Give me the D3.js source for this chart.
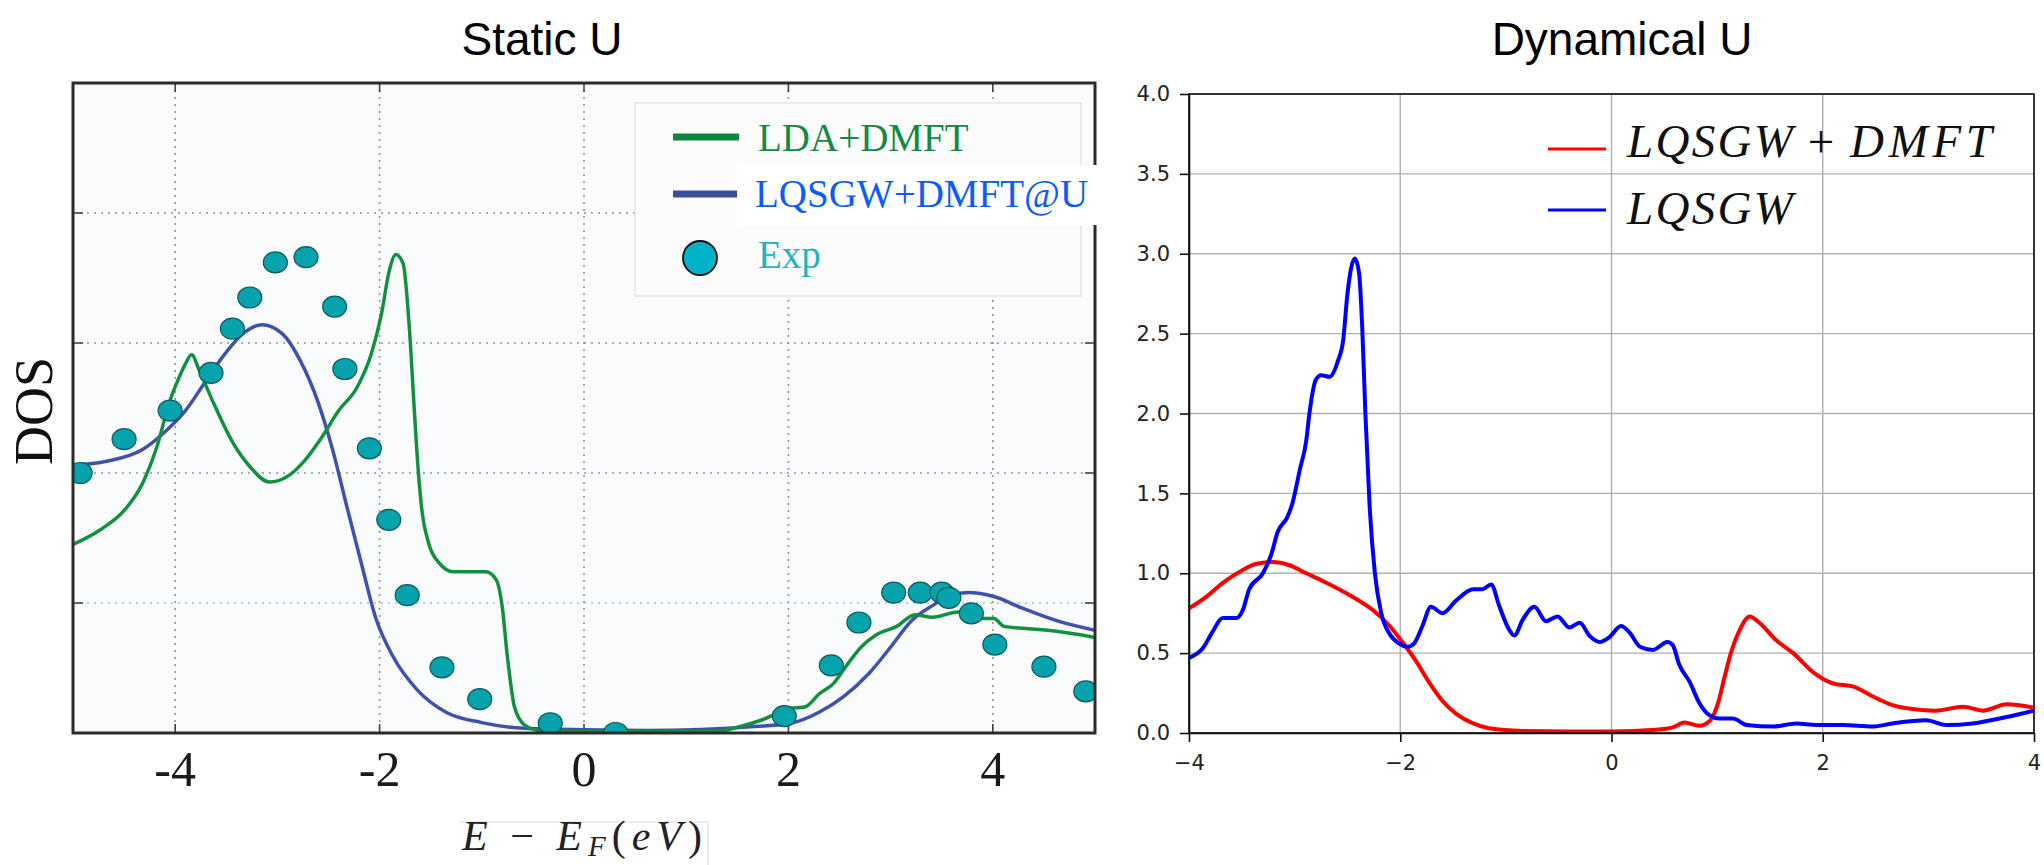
<!DOCTYPE html>
<html>
<head>
<meta charset="utf-8">
<script src="https://cdn.jsdelivr.net/npm/d3@7"></script>
<style>
  body { margin: 0; background: #fff; }
  svg { display: block; }
</style>
</head>
<body>
<svg id="fig" width="2044" height="865"></svg>
<script>
// ---- Static U (left panel) ----
const ldaE   = [-5.0,-4.74,-4.49,-4.32,-4.18,-4.05,-3.97,-3.9,-3.84,-3.76,-3.62,-3.44,-3.27,-3.08,-2.89,-2.74,-2.57,-2.4,-2.22,-2.08,-1.98,-1.91,-1.84,-1.77,-1.71,-1.66,-1.62,-1.59,-1.52,-1.42,-1.28,-0.96,-0.86,-0.8,-0.75,-0.68,-0.58,-0.44,0.5,1.32,1.53,1.74,2.02,2.16,2.3,2.44,2.57,2.71,2.85,3.06,3.24,3.41,3.66,3.83,4.01,4.11,4.39,4.64,5.0];
const ldaDos = [1.45,1.56,1.72,1.92,2.2,2.56,2.72,2.84,2.91,2.78,2.53,2.24,2.05,1.93,1.98,2.09,2.27,2.48,2.66,2.92,3.23,3.54,3.68,3.61,3.13,2.48,2.0,1.74,1.46,1.31,1.24,1.24,1.18,0.97,0.59,0.2,0.06,0.02,0.01,0.015,0.05,0.1,0.19,0.2,0.3,0.38,0.52,0.66,0.75,0.82,0.91,0.89,0.93,0.88,0.88,0.82,0.8,0.78,0.735];

const qsgwUE   = [-5.0,-4.67,-4.32,-4.11,-3.9,-3.69,-3.51,-3.34,-3.15,-2.95,-2.78,-2.6,-2.46,-2.32,-2.18,-2.04,-1.87,-1.63,-1.35,-1.0,-0.58,0.0,0.62,1.67,2.02,2.3,2.54,2.79,3.0,3.2,3.41,3.59,3.76,4.01,4.29,4.64,5.0];
const qsgwUDos = [2.06,2.09,2.18,2.31,2.48,2.72,2.92,3.07,3.14,3.07,2.87,2.54,2.18,1.74,1.31,0.89,0.59,0.33,0.16,0.08,0.036,0.025,0.02,0.05,0.075,0.16,0.28,0.46,0.66,0.86,0.98,1.06,1.08,1.05,0.96,0.86,0.79];

const expE   = [-4.93,-4.5,-4.05,-3.65,-3.44,-3.27,-3.02,-2.72,-2.44,-2.34,-2.1,-1.91,-1.73,-1.39,-1.02,-0.33,0.31,1.96,2.42,2.69,3.03,3.29,3.5,3.57,3.79,4.02,4.5,4.91];
const expDos = [2.0,2.26,2.48,2.77,3.11,3.35,3.62,3.66,3.28,2.8,2.19,1.64,1.06,0.505,0.26,0.075,0.0,0.13,0.52,0.85,1.08,1.08,1.08,1.04,0.92,0.68,0.51,0.32];

const staticTicks = [-4, -2, 0, 2, 4];
const staticGridY = [1, 2, 3, 4];

// ---- Dynamical U (right panel) ----
const dmftE   = [-4.0,-3.84,-3.68,-3.52,-3.36,-3.21,-3.05,-2.89,-2.73,-2.58,-2.42,-2.26,-2.1,-1.98,-1.85,-1.72,-1.6,-1.47,-1.31,-1.16,-0.84,-0.4,0.0,0.42,0.58,0.69,0.83,0.93,1.01,1.07,1.13,1.21,1.31,1.4,1.56,1.72,1.91,2.1,2.29,2.47,2.66,2.85,3.07,3.33,3.52,3.74,3.99];
const dmftDos = [0.78,0.85,0.94,1.01,1.06,1.07,1.05,1.0,0.95,0.9,0.84,0.77,0.67,0.57,0.45,0.31,0.2,0.12,0.06,0.03,0.013,0.01,0.01,0.02,0.035,0.065,0.045,0.075,0.19,0.35,0.5,0.64,0.73,0.69,0.58,0.5,0.38,0.31,0.29,0.23,0.175,0.15,0.14,0.165,0.14,0.18,0.16];

const qsgwE   = [-4.0,-3.87,-3.78,-3.68,-3.55,-3.49,-3.43,-3.3,-3.22,-3.16,-3.07,-3.02,-2.95,-2.89,-2.86,-2.8,-2.75,-2.67,-2.59,-2.54,-2.5,-2.43,-2.39,-2.36,-2.33,-2.29,-2.24,-2.18,-2.1,-2.01,-1.93,-1.87,-1.79,-1.71,-1.6,-1.47,-1.31,-1.22,-1.14,-1.06,-0.98,-0.92,-0.84,-0.73,-0.62,-0.51,-0.4,-0.3,-0.21,-0.11,-0.02,0.09,0.17,0.27,0.39,0.53,0.58,0.64,0.74,0.83,0.93,1.02,1.15,1.28,1.53,1.75,1.94,2.19,2.47,2.66,2.98,3.17,3.42,3.74,4.0];
const qsgwDos = [0.47,0.53,0.63,0.72,0.72,0.77,0.9,1.0,1.12,1.26,1.35,1.44,1.65,1.83,2.0,2.21,2.24,2.23,2.33,2.46,2.75,2.97,2.88,2.54,2.0,1.42,1.0,0.75,0.62,0.56,0.54,0.56,0.67,0.79,0.75,0.83,0.9,0.9,0.93,0.79,0.66,0.61,0.71,0.79,0.7,0.73,0.66,0.69,0.61,0.57,0.6,0.67,0.63,0.54,0.52,0.57,0.55,0.43,0.32,0.19,0.11,0.09,0.09,0.05,0.04,0.06,0.05,0.05,0.04,0.06,0.08,0.05,0.06,0.1,0.14];

const dynXTicks = [-4, -2, 0, 2, 4];
const dynYTicks = [0, 0.5, 1, 1.5, 2, 2.5, 3, 3.5, 4];

const svg = d3.select("#fig");
const serif = "'Liberation Serif', 'Times New Roman', serif";

// ================= left panel =================
const xL = d3.scaleLinear().domain([-5, 5]).range([73, 1095]);
const yL = d3.scaleLinear().domain([0, 5]).range([733, 83]);

svg.append("text").attr("x", 542).attr("y", 55).attr("text-anchor", "middle")
  .style("font-family", "'Liberation Sans', Arial, sans-serif").style("font-size", "46px")
  .text("Static U");

svg.append("rect").attr("x", xL(-5)).attr("y", yL(5))
  .attr("width", xL(5) - xL(-5)).attr("height", yL(0) - yL(5))
  .attr("fill", "#fafbfd");

svg.append("defs").append("clipPath").attr("id", "clipL")
  .append("rect").attr("x", xL(-5)).attr("y", yL(5))
  .attr("width", xL(5) - xL(-5)).attr("height", yL(0) - yL(5));

const gridL = svg.append("g");
gridL.selectAll(".vx").data(staticTicks).enter().append("line")
  .attr("x1", d => xL(d)).attr("x2", d => xL(d))
  .attr("y1", yL(5)).attr("y2", yL(0))
  .attr("stroke", "#8a95a5").attr("stroke-width", 1.6).attr("stroke-dasharray", "2,5");
gridL.selectAll(".hy").data(staticGridY).enter().append("line")
  .attr("x1", xL(-5)).attr("x2", xL(5))
  .attr("y1", d => yL(d)).attr("y2", d => yL(d))
  .attr("stroke", d => d === 1 ? "#9cc0d4" : "#8a95a5").attr("stroke-width", 1.6).attr("stroke-dasharray", "2,5");

// inward ticks
const tickL = svg.append("g").attr("stroke", "#444").attr("stroke-width", 1.6);
staticTicks.forEach(d => {
  tickL.append("line").attr("x1", xL(d)).attr("x2", xL(d)).attr("y1", yL(0)).attr("y2", yL(0) - 9);
  tickL.append("line").attr("x1", xL(d)).attr("x2", xL(d)).attr("y1", yL(5)).attr("y2", yL(5) + 9);
});
staticGridY.forEach(d => {
  tickL.append("line").attr("x1", xL(-5)).attr("x2", xL(-5) + 10).attr("y1", yL(d)).attr("y2", yL(d));
  tickL.append("line").attr("x1", xL(5)).attr("x2", xL(5) - 10).attr("y1", yL(d)).attr("y2", yL(d));
});

const lineL = d3.line().x(d => xL(d[0])).y(d => yL(d[1])).curve(d3.curveMonotoneX);
const plotL = svg.append("g").attr("clip-path", "url(#clipL)");

plotL.append("path").datum(d3.zip(qsgwUE, qsgwUDos))
  .attr("d", lineL).attr("fill", "none").attr("stroke", "#3e52ad").attr("stroke-width", 3.5);
plotL.append("path").datum(d3.zip(ldaE, ldaDos))
  .attr("d", lineL).attr("fill", "none").attr("stroke", "#12903f").attr("stroke-width", 3.5);
plotL.selectAll(".exp").data(d3.zip(expE, expDos)).enter().append("ellipse")
  .attr("cx", d => xL(d[0])).attr("cy", d => yL(d[1]))
  .attr("rx", 12).attr("ry", 10.5)
  .attr("fill", "#06a3ac").attr("stroke", "#0b5a5e").attr("stroke-width", 1.2);

svg.append("rect").attr("x", xL(-5)).attr("y", yL(5))
  .attr("width", xL(5) - xL(-5)).attr("height", yL(0) - yL(5))
  .attr("fill", "none").attr("stroke", "#2b2b2b").attr("stroke-width", 3);

svg.append("g").selectAll("text").data(staticTicks).enter().append("text")
  .attr("x", d => xL(d)).attr("y", 786).attr("text-anchor", "middle")
  .style("font-family", serif).style("font-size", "50px").attr("fill", "#1a1a1a")
  .text(d => d < 0 ? "-" + Math.abs(d) : String(d));

svg.append("text").attr("transform", "translate(52,411) rotate(-90)")
  .attr("text-anchor", "middle")
  .style("font-family", serif).style("font-size", "54px").attr("fill", "#111")
  .text("DOS");

// x label (LaTeX style)
svg.append("line").attr("x1", 459).attr("x2", 708).attr("y1", 822).attr("y2", 822)
  .attr("stroke", "#dcdcdc").attr("stroke-width", 1.2);
svg.append("line").attr("x1", 708).attr("x2", 708).attr("y1", 822).attr("y2", 865)
  .attr("stroke", "#dcdcdc").attr("stroke-width", 1.2);
const xlab = svg.append("text").attr("x", 462).attr("y", 850)
  .attr("textLength", 240).attr("lengthAdjust", "spacing")
  .style("font-family", serif).style("font-size", "42px").attr("fill", "#222");
xlab.append("tspan").style("font-style", "italic").text("E");
xlab.append("tspan").text(" \u2212 ");
xlab.append("tspan").style("font-style", "italic").text("E");
xlab.append("tspan").style("font-style", "italic").style("font-size", "29px").attr("dy", 6).text("F");
xlab.append("tspan").attr("dy", -6).text("(");
xlab.append("tspan").style("font-style", "italic").text("eV");
xlab.append("tspan").text(")");

// legend
const legL = svg.append("g");
legL.append("rect").attr("x", 635).attr("y", 103).attr("width", 446).attr("height", 193)
  .attr("fill", "#fcfcfd").attr("stroke", "#e3e6ea").attr("stroke-width", 1.5);
legL.append("line").attr("x1", 673).attr("x2", 739).attr("y1", 137).attr("y2", 137)
  .attr("stroke", "#10843f").attr("stroke-width", 7);
legL.append("text").attr("x", 758).attr("y", 151)
  .style("font-family", serif).style("font-size", "39px").attr("fill", "#138a43")
  .text("LDA+DMFT");
legL.append("line").attr("x1", 673).attr("x2", 737).attr("y1", 194).attr("y2", 194)
  .attr("stroke", "#3a4ea0").attr("stroke-width", 7);
legL.append("rect").attr("x", 737).attr("y", 165).attr("width", 362).attr("height", 60)
  .attr("fill", "#ffffff");
legL.append("text").attr("x", 755).attr("y", 207)
  .style("font-family", serif).style("font-size", "39px").attr("fill", "#0a5cff")
  .text("LQSGW+DMFT@U");
legL.append("circle").attr("cx", 700).attr("cy", 258).attr("r", 17)
  .attr("fill", "#00b3c9").attr("stroke", "#111").attr("stroke-width", 1.8);
legL.append("text").attr("x", 758).attr("y", 268)
  .style("font-family", serif).style("font-size", "39px").attr("fill", "#22b5bd")
  .text("Exp");

// ================= right panel =================
const xR = d3.scaleLinear().domain([-4, 4]).range([1189, 2034]);
const yR = d3.scaleLinear().domain([0, 4]).range([733, 94]);

svg.append("text").attr("x", 1622).attr("y", 55).attr("text-anchor", "middle")
  .style("font-family", "'Liberation Sans', Arial, sans-serif").style("font-size", "46px")
  .text("Dynamical U");

const gridR = svg.append("g").attr("stroke", "#b0b0b0").attr("stroke-width", 1.4);
gridR.selectAll(".gx").data(dynXTicks).enter().append("line")
  .attr("x1", d => xR(d)).attr("x2", d => xR(d)).attr("y1", yR(0)).attr("y2", yR(4));
gridR.selectAll(".gy").data(dynYTicks).enter().append("line")
  .attr("x1", xR(-4)).attr("x2", xR(4)).attr("y1", d => yR(d)).attr("y2", d => yR(d));

const lineR = d3.line().x(d => xR(d[0])).y(d => yR(d[1])).curve(d3.curveMonotoneX);
svg.append("path").datum(d3.zip(dmftE, dmftDos))
  .attr("d", lineR).attr("fill", "none").attr("stroke", "#ff0000").attr("stroke-width", 4);
svg.append("path").datum(d3.zip(qsgwE, qsgwDos))
  .attr("d", lineR).attr("fill", "none").attr("stroke", "#0000ff").attr("stroke-width", 4);

svg.append("rect").attr("x", xR(-4)).attr("y", yR(4))
  .attr("width", xR(4) - xR(-4)).attr("height", yR(0) - yR(4))
  .attr("fill", "none").attr("stroke", "#111").attr("stroke-width", 1.6);

const axY = svg.append("g").attr("transform", `translate(${xR(-4)},0)`)
  .call(d3.axisLeft(yR).tickValues(dynYTicks).tickFormat(d3.format(".1f")).tickSize(9).tickSizeOuter(0).tickPadding(10));
const axX = svg.append("g").attr("transform", `translate(0,${yR(0)})`)
  .call(d3.axisBottom(xR).tickValues(dynXTicks).tickFormat(d3.format("d")).tickSize(9).tickSizeOuter(0).tickPadding(13));
[axX, axY].forEach(a => {
  a.selectAll("path.domain").attr("stroke", "#111").attr("stroke-width", 1.6);
  a.selectAll(".tick line").attr("stroke", "#111").attr("stroke-width", 1.6);
  a.selectAll("text").style("font-family", "'DejaVu Sans', sans-serif").style("font-size", "21px").attr("fill", "#222");
});

// legend (math italic)
const legR = svg.append("g");
legR.append("line").attr("x1", 1548).attr("x2", 1606).attr("y1", 149).attr("y2", 149)
  .attr("stroke", "#ff0000").attr("stroke-width", 3);
legR.append("line").attr("x1", 1548).attr("x2", 1606).attr("y1", 210).attr("y2", 210)
  .attr("stroke", "#0000ff").attr("stroke-width", 3);
const mathFont = s => s.style("font-family", serif).style("font-size", "47px").attr("fill", "#111");
legR.append("text").attr("x", 1627).attr("y", 157).attr("textLength", 166)
  .style("font-style", "italic").call(mathFont).text("LQSGW");
legR.append("text").attr("x", 1821).attr("y", 157).attr("text-anchor", "middle")
  .call(mathFont).text("+");
legR.append("text").attr("x", 1850).attr("y", 157).attr("textLength", 142)
  .style("font-style", "italic").call(mathFont).text("DMFT");
legR.append("text").attr("x", 1627).attr("y", 224).attr("textLength", 166)
  .style("font-style", "italic").call(mathFont).text("LQSGW");
</script>
</body>
</html>
